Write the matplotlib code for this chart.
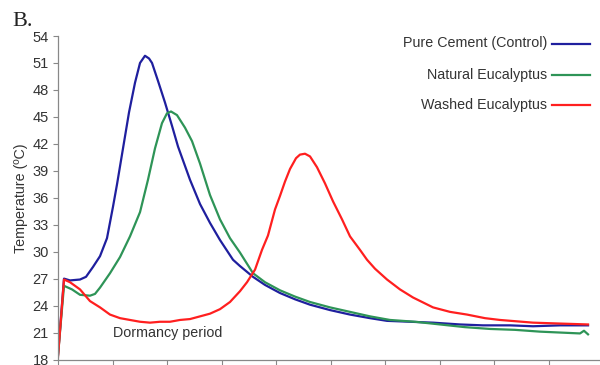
import matplotlib
matplotlib.use("Agg")
import matplotlib.pyplot as plt
from matplotlib.lines import Line2D

# Elapsed time (tick units) and temperature (ºC) for each mix
t_control = [0.0, 0.110, 0.220, 0.404, 0.514, 0.642, 0.771, 0.899, 1.009, 1.083, 1.193,
             1.303, 1.413, 1.505, 1.596, 1.670, 1.725, 1.835, 1.963, 2.092, 2.202, 2.422,
             2.606, 2.789, 2.972, 3.211, 3.339, 3.578, 3.798, 4.073, 4.349, 4.624, 4.991,
             5.358, 5.725, 6.037, 6.459, 6.881, 7.376, 7.798, 8.294, 8.716, 9.211, 9.725]
temp_control = [18.5, 27.0, 26.8, 26.9, 27.2, 28.3, 29.5, 31.5, 35.0, 37.5, 41.5,
                45.5, 48.8, 51.0, 51.8, 51.5, 51.0, 49.0, 46.6, 44.0, 41.7, 38.0,
                35.3, 33.2, 31.3, 29.1, 28.4, 27.2, 26.3, 25.4, 24.7, 24.1, 23.5,
                23.0, 22.6, 22.3, 22.2, 22.1, 21.9, 21.8, 21.8, 21.7, 21.8, 21.8]

t_natural = [0.0, 0.110, 0.257, 0.404, 0.587, 0.679, 0.771, 0.954, 1.138, 1.321, 1.505,
             1.651, 1.780, 1.908, 2.000, 2.073, 2.183, 2.330, 2.459, 2.606, 2.789, 2.972,
             3.156, 3.339, 3.578, 3.798, 4.073, 4.349, 4.624, 4.991, 5.358, 5.725, 6.092,
             6.550, 7.009, 7.468, 7.927, 8.385, 8.844, 9.211, 9.578, 9.651, 9.725]
temp_natural = [18.5, 26.2, 25.8, 25.2, 25.1, 25.3, 26.0, 27.6, 29.4, 31.7, 34.4,
                38.0, 41.5, 44.3, 45.4, 45.6, 45.2, 43.8, 42.3, 39.8, 36.3, 33.6,
                31.5, 29.9, 27.6, 26.6, 25.7, 25.0, 24.4, 23.8, 23.3, 22.8, 22.4,
                22.2, 21.9, 21.6, 21.4, 21.3, 21.1, 21.0, 20.9, 21.2, 20.8]

t_washed = [0.0, 0.110, 0.220, 0.404, 0.587, 0.771, 0.954, 1.138, 1.321, 1.505, 1.688,
            1.872, 2.055, 2.239, 2.422, 2.606, 2.789, 2.972, 3.156, 3.339, 3.468, 3.615,
            3.743, 3.853, 3.982, 4.073, 4.165, 4.257, 4.367, 4.440, 4.532, 4.624, 4.752,
            4.899, 5.046, 5.211, 5.358, 5.541, 5.670, 5.817, 6.037, 6.275, 6.514, 6.881,
            7.193, 7.505, 7.835, 8.110, 8.716, 9.211, 9.725]
temp_washed = [18.3, 26.9, 26.6, 25.8, 24.5, 23.8, 23.0, 22.6, 22.4, 22.2, 22.1,
               22.2, 22.2, 22.4, 22.5, 22.8, 23.1, 23.6, 24.4, 25.6, 26.6, 28.0,
               30.2, 31.8, 34.7, 36.2, 37.8, 39.2, 40.4, 40.8, 40.9, 40.6, 39.4,
               37.6, 35.6, 33.6, 31.7, 30.2, 29.1, 28.1, 26.9, 25.8, 24.9, 23.8,
               23.3, 23.0, 22.6, 22.4, 22.1, 22.0, 21.9]

series_labels = ["Pure Cement (Control)", "Natural Eucalyptus", "Washed Eucalyptus"]
series_colors = ["#1f1f9e", "#2e9457", "#ff1f1f"]
y_ticks = [18, 21, 24, 27, 30, 33, 36, 39, 42, 45, 48, 51, 54]

plt.rcParams["font.family"] = ["Liberation Sans", "DejaVu Sans"]

W, H = 600, 365
fig = plt.figure(figsize=(W / 100, H / 100), dpi=100)
ax = fig.add_axes([58 / W, 1 - 359.5 / H, 541 / W, 323.5 / H])

series = [(t_control, temp_control), (t_natural, temp_natural), (t_washed, temp_washed)]
for (tx, ty), c in zip(series, series_colors):
    ax.plot(tx, ty, color=c, lw=1.6, solid_joinstyle="round")

ax.set_xlim(0, 541 / 54.5)
ax.set_ylim(18, 54)
ax.set_yticks(y_ticks)
ax.set_xticks(range(10))
ax.set_xticklabels([])
ax.tick_params(axis="y", length=3.5, width=0.8, color="#888888", pad=3,
               labelsize=10.5, labelcolor="#333333")
ax.tick_params(axis="x", length=4, width=0.8, color="#888888")
for s in ["top", "right"]:
    ax.spines[s].set_visible(False)
for s in ["left", "bottom"]:
    ax.spines[s].set_color("#888888")
    ax.spines[s].set_linewidth(0.9)

ax.set_ylabel("Temperature (ºC)", fontsize=10.3, color="#333333", labelpad=3)

ax.text((113 - 58) / 54.5, 21.0, "Dormancy period", fontsize=10.3, color="#333333",
        ha="left", va="center")

# Legend: right-aligned labels with line samples to their right
rows_y = [43.5, 75, 105]
for lab, c, yp in zip(series_labels, series_colors, rows_y):
    fy = 1 - yp / H
    fig.text(547 / W, fy, lab, fontsize=10.3, color="#333333", ha="right", va="center")
    fig.add_artist(Line2D([552 / W, 590 / W], [fy, fy], color=c, lw=1.6,
                          transform=fig.transFigure))

fig.text(12 / W, 1 - 26 / H, "B.", family="Liberation Serif", fontsize=16,
         color="#222222", ha="left", va="baseline")

fig.savefig("out.png", dpi=100)
